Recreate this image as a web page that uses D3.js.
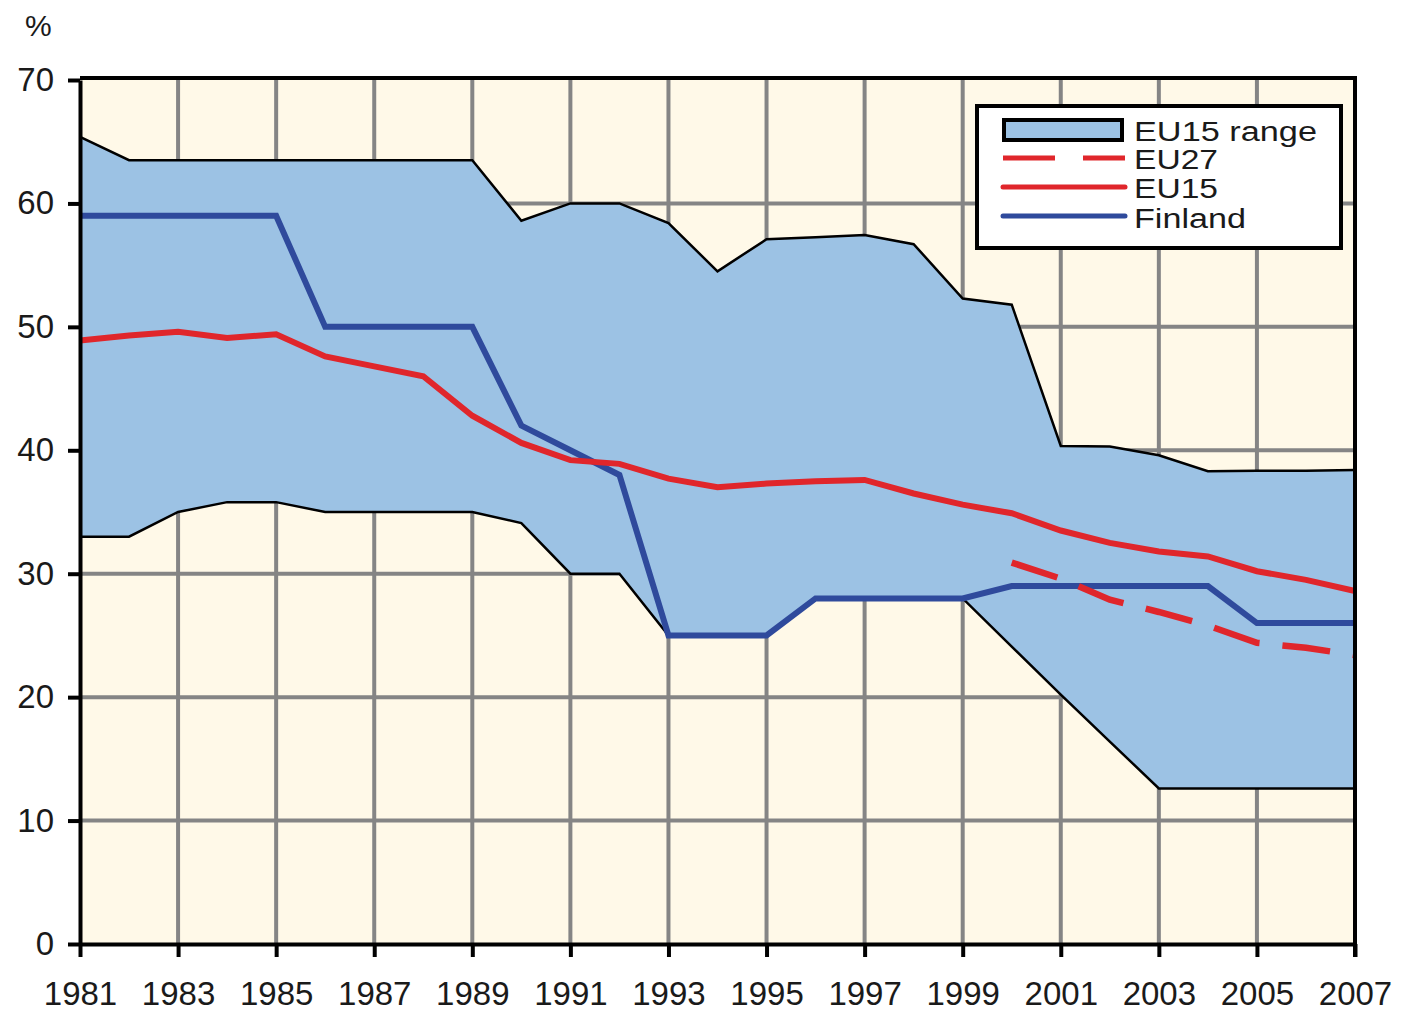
<!DOCTYPE html>
<html>
<head>
<meta charset="utf-8">
<script src="https://cdn.jsdelivr.net/npm/d3@7"></script>
<style>
  body { margin: 0; background: #fff; }
  svg { display: block; }
  text { font-family: "Liberation Sans", Arial, sans-serif; fill: #1a1a1a; }
</style>
</head>
<body>
<div class="chart"></div>
<script>
// ---------------------------------- DATA
var years = d3.range(1981, 2008);
var rangeHigh = [65.4, 63.5, 63.5, 63.5, 63.5, 63.5, 63.5, 63.5, 63.5, 58.6, 60.0, 60.0, 58.4, 54.5,
                 57.1, 57.25, 57.45, 56.7, 52.3, 51.8, 40.35, 40.3, 39.6, 38.3, 38.35, 38.35, 38.4];
var rangeLow  = [33.0, 33.0, 35.0, 35.8, 35.8, 35.0, 35.0, 35.0, 35.0, 34.1, 30.0, 30.0, 25.0, 25.0,
                 25.0, 28.0, 28.0, 28.0, 28.0, 24.1, 20.2, 16.4, 12.6, 12.6, 12.6, 12.6, 12.6];
var eu15      = [48.9, 49.3, 49.6, 49.1, 49.4, 47.6, 46.8, 46.0, 42.8, 40.6, 39.2, 38.9, 37.7, 37.0,
                 37.3, 37.5, 37.6, 36.5, 35.6, 34.9, 33.5, 32.5, 31.8, 31.4, 30.2, 29.5, 28.6];
var finland   = [59, 59, 59, 59, 59, 50, 50, 50, 50, 42, 40, 38, 25, 25,
                 25, 28, 28, 28, 28, 29, 29, 29, 29, 29, 26, 26, 26];
var eu27Years = [2000, 2001, 2002, 2003, 2004, 2005, 2006, 2007];
var eu27      = [30.9, 29.6, 27.9, 26.9, 25.8, 24.4, 24.0, 23.4];

var yTicks = [0, 10, 20, 30, 40, 50, 60, 70];
var xTicks = d3.range(1981, 2008, 2);
var legendLabels = ["EU15 range", "EU27", "EU15", "Finland"];

// ---------------------------------- SETUP
var width = 1402, height = 1012;
var plot = {left: 80, right: 1355, top: 80, bottom: 944};

var cream = "#fff9e8", rangeBlue = "#9cc2e4", red = "#e0262b", blue = "#2f4a9c", grid = "#858585";

var svg = d3.select(".chart").append("svg")
  .attr("width", width)
  .attr("height", height);

var x = d3.scaleLinear().domain([1981, 2007]).range([plot.left, plot.right]);
var y = d3.scaleLinear().domain([0, 70]).range([plot.bottom, plot.top]);

var series = years.map(function (yr, i) {
  return {year: yr, high: rangeHigh[i], low: rangeLow[i], eu15: eu15[i], fin: finland[i]};
});
var eu27Data = eu27Years.map(function (yr, i) { return {year: yr, v: eu27[i]}; });

// background
svg.append("rect")
  .attr("x", plot.left).attr("y", plot.top)
  .attr("width", plot.right - plot.left).attr("height", plot.bottom - plot.top)
  .attr("fill", cream);

// gridlines
svg.append("g").selectAll("line.v")
  .data(xTicks.slice(1, -1))
  .enter().append("line")
    .attr("x1", function (d) { return x(d); }).attr("x2", function (d) { return x(d); })
    .attr("y1", plot.top).attr("y2", plot.bottom)
    .attr("stroke", grid).attr("stroke-width", 4);

svg.append("g").selectAll("line.h")
  .data(yTicks.slice(1, -1))
  .enter().append("line")
    .attr("y1", function (d) { return y(d); }).attr("y2", function (d) { return y(d); })
    .attr("x1", plot.left).attr("x2", plot.right)
    .attr("stroke", grid).attr("stroke-width", 4);

// ---------------------------------- RANGE AREA
var area = d3.area()
  .x(function (d) { return x(d.year); })
  .y0(function (d) { return y(d.low); })
  .y1(function (d) { return y(d.high); });

svg.append("path")
  .attr("d", area(series))
  .attr("fill", rangeBlue);

var hiLine = d3.line().x(function (d) { return x(d.year); }).y(function (d) { return y(d.high); });
var loLine = d3.line().x(function (d) { return x(d.year); }).y(function (d) { return y(d.low); });

svg.append("path").attr("d", hiLine(series))
  .attr("fill", "none").attr("stroke", "#000").attr("stroke-width", 2.5);
svg.append("path").attr("d", loLine(series))
  .attr("fill", "none").attr("stroke", "#000").attr("stroke-width", 2.5);

// ---------------------------------- LINES
var finLine = d3.line().x(function (d) { return x(d.year); }).y(function (d) { return y(d.fin); });
var eu15Line = d3.line().x(function (d) { return x(d.year); }).y(function (d) { return y(d.eu15); });
var eu27Line = d3.line().x(function (d) { return x(d.year); }).y(function (d) { return y(d.v); });

svg.append("path").attr("d", finLine(series))
  .attr("fill", "none").attr("stroke", blue).attr("stroke-width", 6);

svg.append("path").attr("d", eu15Line(series))
  .attr("fill", "none").attr("stroke", red).attr("stroke-width", 6);

svg.append("path").attr("d", eu27Line(eu27Data))
  .attr("fill", "none").attr("stroke", red).attr("stroke-width", 6.5)
  .attr("stroke-dasharray", "48,23");

// ---------------------------------- AXES
var yAxis = d3.axisLeft(y).tickValues(yTicks).tickSize(12).tickSizeOuter(0).tickPadding(14);
var xAxis = d3.axisBottom(x).tickValues(xTicks).tickFormat(d3.format("d"))
  .tickSize(13).tickSizeOuter(0).tickPadding(25);

var gy = svg.append("g").attr("transform", "translate(" + plot.left + ",0)").call(yAxis);
var gx = svg.append("g").attr("transform", "translate(0," + plot.bottom + ")").call(xAxis);

[gy, gx].forEach(function (g) {
  g.select(".domain").attr("stroke", "#000").attr("stroke-width", 4);
  g.selectAll(".tick line").attr("stroke", "#000").attr("stroke-width", 4);
  g.selectAll(".tick text").style("font-size", "33px").attr("fill", "#1a1a1a")
    .style("font-family", "'Liberation Sans', Arial, sans-serif");
});

// top and right frame
svg.append("line")
  .attr("x1", plot.left).attr("x2", plot.right + 2)
  .attr("y1", plot.top - 2).attr("y2", plot.top - 2)
  .attr("stroke", "#000").attr("stroke-width", 4);
svg.append("line")
  .attr("x1", plot.right).attr("x2", plot.right)
  .attr("y1", plot.top - 4).attr("y2", plot.bottom + 13)
  .attr("stroke", "#000").attr("stroke-width", 4);

svg.append("text")
  .attr("x", 25).attr("y", 36)
  .style("font-size", "30px")
  .text("%");

// ---------------------------------- LEGEND
var legend = svg.append("g").attr("transform", "translate(977,106)");

legend.append("rect")
  .attr("width", 364).attr("height", 142)
  .attr("fill", "#fff").attr("stroke", "#000").attr("stroke-width", 4);

legend.append("rect")
  .attr("x", 27).attr("y", 14).attr("width", 118).attr("height", 20)
  .attr("fill", rangeBlue).attr("stroke", "#000").attr("stroke-width", 4);

var legendStyles = [
  {color: red, dash: "52,28"},
  {color: red, dash: null},
  {color: blue, dash: null}];
var legendY = [52, 81, 110];

legend.selectAll("line.sym")
  .data(legendStyles)
  .enter().append("line")
    .attr("x1", 26).attr("x2", 148)
    .attr("y1", function (d, i) { return legendY[i]; })
    .attr("y2", function (d, i) { return legendY[i]; })
    .attr("stroke", function (d) { return d.color; })
    .attr("stroke-width", 5)
    .attr("stroke-linecap", function (d) { return d.dash ? "butt" : "round"; })
    .attr("stroke-dasharray", function (d) { return d.dash; });

// text widths follow the reference, font kept a bit smaller so rows do not collide
var legendWidths = [183, 84, 84, 112];
legend.selectAll("text.lab")
  .data(legendLabels)
  .enter().append("text")
    .attr("x", 157)
    .attr("y", function (d, i) { return [35, 63, 92, 122][i]; })
    .style("font-size", "27px")
    .attr("textLength", function (d, i) { return legendWidths[i]; })
    .attr("lengthAdjust", "spacingAndGlyphs")
    .text(function (d) { return d; });
</script>
</body>
</html>
